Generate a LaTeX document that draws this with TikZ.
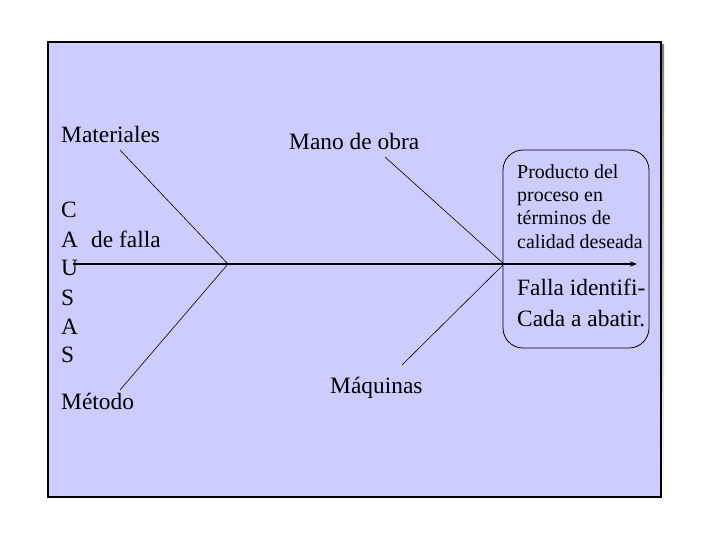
\documentclass[tikz,border=0pt]{standalone}
\usepackage{fontspec}
\setmainfont{Liberation Serif}
\usetikzlibrary{arrows.meta}
\definecolor{panel}{HTML}{CCCCFF}
\definecolor{shade}{HTML}{808080}
\tikzset{
  big/.style={anchor=base west,inner sep=0pt,font=\fontsize{23.5}{28}\selectfont},
  small/.style={anchor=base west,inner sep=0pt,font=\fontsize{20}{23}\selectfont},
  bone/.style={draw=black,line width=0.6pt},
  spine/.style={draw=black,line width=2pt,-{Stealth[length=7pt,width=5pt]}},
}
\begin{document}
\begin{tikzpicture}[x=1bp,y=-1bp]
\useasboundingbox (0,0) rectangle (720,540);
% frame with shadow
\fill[shade] (51,45) rectangle (664,501);
\draw[fill=panel,line width=1.5pt] (48,42) rectangle (661,497);
% result box
\draw[line width=0.8pt,rounded corners=20bp] (503,150) rectangle (649,348);
\node[coordinate] (box) at (576,249) {};
% text
\node[big] (mat) at (61,143) {Materiales};
\node[big] (mano) at (289,150) {Mano de obra};
\node[big] (met) at (61,409) {Método};
\node[big] (maq) at (330,393) {Máquinas};
\node[big] (c1) at (61,218) {C};
\node[big] (c2) at (61,248) {A};
\node[big] (c3) at (61,276) {U};
\node[big] (c4) at (61,305) {S};
\node[big] (c5) at (61,334) {A};
\node[big] (c6) at (61,362) {S};
\node[big] (falla) at (91,248) {de falla};
\node[small] (p1) at (517,179) {Producto del};
\node[small] (p2) at (517,202) {proceso en};
\node[small] (p3) at (517,225) {términos de};
\node[small] (p4) at (517,249) {calidad deseada};
\node[big] (f1) at (517,295) {Falla identifi-};
\node[big] (f2) at (517,326) {Cada a abatir.};
% fishbone coordinates
\coordinate (s0) at (73,264);
\coordinate (s1) at (637,264);
\coordinate (j1) at (228,264);
\coordinate (j2) at (504,264);
\coordinate (mt) at (120,150);
\coordinate (mb) at (120,390);
\coordinate (ot) at (385,157);
\coordinate (qb) at (402,365);
\draw[bone] (mt) -- (j1);
\draw[bone] (mb) -- (j1);
\draw[bone] (ot) -- (j2);
\draw[bone] (qb) -- (j2);
\draw[spine] (s0) -- (s1);
\end{tikzpicture}
\end{document}
